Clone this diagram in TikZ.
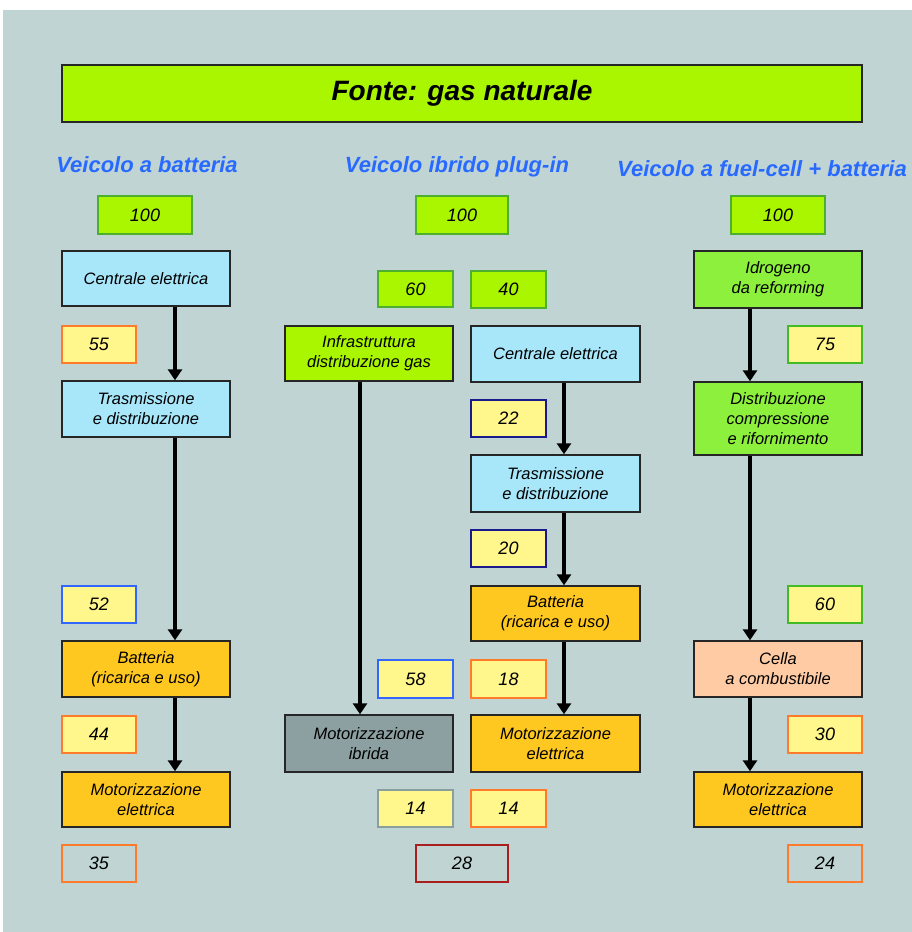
\documentclass[tikz,border=0pt]{standalone}
\usepackage{fontspec}
\setmainfont{Liberation Sans}
\usetikzlibrary{arrows.meta}
\definecolor{bgc}{RGB}{192,212,212}
\definecolor{lime}{RGB}{170,245,0}
\definecolor{limeb}{RGB}{76,175,48}
\definecolor{lblue}{RGB}{168,230,250}
\definecolor{lyel}{RGB}{255,246,140}
\definecolor{gold}{RGB}{255,200,32}
\definecolor{bgreen}{RGB}{140,240,60}
\definecolor{peach}{RGB}{255,203,164}
\definecolor{slate}{RGB}{140,160,162}
\definecolor{hblue}{RGB}{40,105,255}
\definecolor{bor}{RGB}{255,122,42}
\definecolor{bbl}{RGB}{51,102,255}
\definecolor{bdb}{RGB}{26,26,140}
\definecolor{bgr}{RGB}{138,158,158}
\definecolor{bdr}{RGB}{170,30,30}
\definecolor{bgn}{RGB}{68,187,34}
\tikzset{
  x=1pt, y=-1pt,
  stage/.style={draw=black!85, line width=1.4pt, minimum width=168pt, minimum height=56pt,
    inner sep=0pt, align=center, font=\fontsize{16.5}{20}\selectfont\itshape},
  val/.style={draw=#1, line width=1.4pt, minimum width=74pt, minimum height=37pt,
    inner sep=0pt, font=\fontsize{18}{20}\selectfont\itshape},
  head/.style={text=hblue, font=\fontsize{22}{24}\selectfont\bfseries\itshape, inner sep=0pt},
  flow/.style={line width=4pt, -{Triangle[width=14pt,length=11pt]}}
}
\begin{document}
\begin{tikzpicture}
\useasboundingbox (0,0) rectangle (912,932);
\fill[bgc] (3,10) rectangle (912,932);
% title
\node[draw=black!85, line width=1.4pt, fill=lime, minimum width=800pt, minimum height=57pt, inner sep=0pt,
  font=\fontsize{28}{30}\selectfont\bfseries\itshape] (title) at (462,93.5) {Fonte: gas naturale};
% headers
\node[head] (h1) at (147,165) {Veicolo a batteria};
\node[head] (h2) at (457,167) {Veicolo ibrido plug-in};
\node[head] (h3) at (762,169) {Veicolo a fuel-cell + batteria};
% column 1
\node[val=limeb, fill=lime, minimum width=94pt, minimum height=38pt] (a100) at (145,215) {100};
\node[stage, fill=lblue, minimum height=55pt] (c1) at (146,278.5) {Centrale elettrica};
\node[val=bor, fill=lyel] (a55) at (99,344.5) {55};
\node[stage, fill=lblue] (t1) at (146,409) {Trasmissione\\e distribuzione};
\node[val=bbl, fill=lyel] (a52) at (99,604.5) {52};
\node[stage, fill=gold] (b1) at (146,669) {Batteria\\(ricarica e uso)};
\node[val=bor, fill=lyel] (a44) at (99,734.5) {44};
\node[stage, fill=gold, minimum height=55pt] (m1) at (146,799.5) {Motorizzazione\\elettrica};
\node[val=bor] (a35) at (99,863.5) {35};
% column 2
\node[val=limeb, fill=lime, minimum width=92pt, minimum height=38pt] (b100) at (462,215) {100};
\node[val=limeb, fill=lime, minimum width=75pt, minimum height=36pt] (b60) at (415.5,289) {60};
\node[val=limeb, fill=lime, minimum width=75pt, minimum height=37pt] (b40) at (508.5,289.5) {40};
\node[stage, fill=lime, minimum height=55pt] (inf) at (369,353.5) {Infrastruttura\\distribuzione gas};
\node[stage, fill=lblue, minimum width=169pt] (c2) at (555.5,354) {Centrale elettrica};
\node[val=bdb, fill=lyel, minimum width=75pt] (b22) at (508.5,418.5) {22};
\node[stage, fill=lblue, minimum width=169pt, minimum height=57pt] (t2) at (555.5,483.5) {Trasmissione\\e distribuzione};
\node[val=bdb, fill=lyel, minimum width=75pt] (b20) at (508.5,548.5) {20};
\node[stage, fill=gold, minimum width=169pt, minimum height=55pt] (b2) at (555.5,613.5) {Batteria\\(ricarica e uso)};
\node[val=bbl, fill=lyel, minimum width=75pt, minimum height=38pt] (b58) at (415.5,679) {58};
\node[val=bor, fill=lyel, minimum width=75pt, minimum height=38pt] (b18) at (508.5,679) {18};
\node[stage, fill=slate, minimum height=57pt] (mi) at (369,743.5) {Motorizzazione\\ibrida};
\node[stage, fill=gold, minimum width=169pt, minimum height=57pt] (m2) at (555.5,743.5) {Motorizzazione\\elettrica};
\node[val=bgr, fill=lyel, minimum width=75pt] (b14a) at (415.5,808.5) {14};
\node[val=bor, fill=lyel, minimum width=75pt] (b14b) at (508.5,808.5) {14};
\node[val=bdr, minimum width=92pt] (b28) at (462,863.5) {28};
% column 3
\node[val=limeb, fill=lime, minimum width=94pt, minimum height=38pt] (c100) at (778,215) {100};
\node[stage, fill=bgreen, minimum height=57pt] (h3b) at (778,279.5) {Idrogeno\\da reforming};
\node[val=bgn, fill=lyel] (c75) at (825,344.5) {75};
\node[stage, fill=bgreen, minimum height=73pt] (d3) at (778,418.5) {Distribuzione\\compressione\\e rifornimento};
\node[val=bgn, fill=lyel] (c60) at (825,604.5) {60};
\node[stage, fill=peach] (ce3) at (778,669) {Cella\\a combustibile};
\node[val=bor, fill=lyel] (c30) at (825,734.5) {30};
\node[stage, fill=gold, minimum height=55pt] (m3) at (778,799.5) {Motorizzazione\\elettrica};
\node[val=bor] (c24) at (825,863.5) {24};
% arrow columns
\coordinate (x1) at (175,0);
\coordinate (x2) at (360,0);
\coordinate (x3) at (564,0);
\coordinate (x4) at (750,0);
\draw[flow] (c1.south -| x1) -- (t1.north -| x1);
\draw[flow] (t1.south -| x1) -- (b1.north -| x1);
\draw[flow] (b1.south -| x1) -- (m1.north -| x1);
\draw[flow] (inf.south -| x2) -- (mi.north -| x2);
\draw[flow] (c2.south -| x3) -- (t2.north -| x3);
\draw[flow] (t2.south -| x3) -- (b2.north -| x3);
\draw[flow] (b2.south -| x3) -- (m2.north -| x3);
\draw[flow] (h3b.south -| x4) -- (d3.north -| x4);
\draw[flow] (d3.south -| x4) -- (ce3.north -| x4);
\draw[flow] (ce3.south -| x4) -- (m3.north -| x4);
\end{tikzpicture}
\end{document}
